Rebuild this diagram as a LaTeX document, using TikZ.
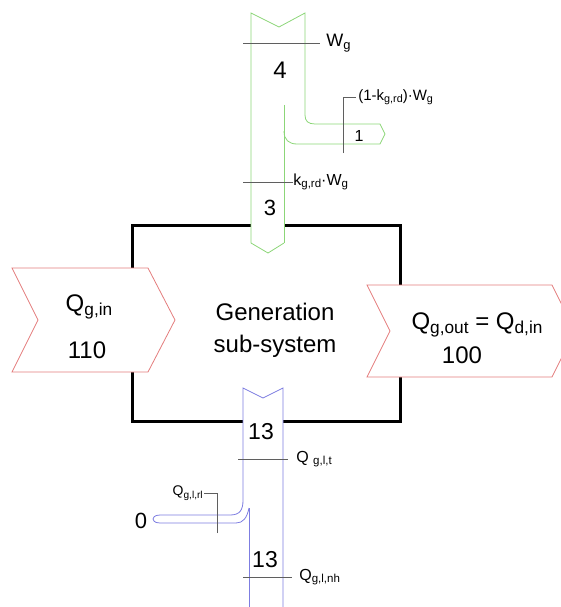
\documentclass[tikz,border=0pt]{standalone}
\usepackage{fontspec}
\setmainfont{Liberation Sans}
\definecolor{flowgreen}{RGB}{140,214,120}
\definecolor{flowred}{RGB}{228,125,125}
\definecolor{flowblue}{RGB}{125,125,225}
\definecolor{leadgray}{RGB}{95,95,95}
\newcommand{\fsz}[1]{\fontsize{#1}{#1}\selectfont}
\makeatletter
\newcommand{\lowsub}[1]{\raisebox{-0.17em}{\fontsize{\strip@pt\dimexpr0.72\dimexpr\f@size pt\relax\relax}{0}\selectfont#1}}
\makeatother
\begin{document}
\begin{tikzpicture}[x=1pt,y=-1pt,
    lead/.style={leadgray,line width=0.7pt},
    lbl/.style={inner sep=0pt,text=black},
    txt/.style={inner sep=0pt,anchor=base}]
    \useasboundingbox (0,0) rectangle (561,607);

    % system boundary
    \draw[line width=3pt] (132,225) rectangle (400,421);

    % heat in / out
    \filldraw[draw=flowred,fill=white,line width=0.8pt] (12,268) -- (148,268) -- (175,320) -- (148,372) -- (12,372) -- (38,320) -- cycle;
    \filldraw[draw=flowred,fill=white,line width=0.8pt] (367,285) -- (552,285) -- (575,331) -- (552,377) -- (367,377) -- (390,331) -- cycle;

    % auxiliary energy (green)
    \fill[white] (251,13) -- (279,27) -- (305,13) -- (305,125) -- (284,125) -- (284,243) -- (268,253) -- (251,243) -- cycle;
    \draw[flowgreen,line width=0.8pt] (284,243) -- (268,253) -- (251,243) -- (251,13) -- (279,27) -- (305,13) -- (305,115)
        .. controls (305,121) and (308,124) .. (315,124) -- (380,124) -- (385,134) -- (380,144) -- (297,144)
        .. controls (289,144) and (284,140) .. (284,131);
    \draw[flowgreen,line width=0.8pt] (284,105) -- (284,243);

    % losses (blue)
    \fill[white] (243,388) -- (263,398) -- (283,388) -- (283,607) -- (243,607) -- cycle;
    \draw[flowblue,line width=0.8pt] (283,607) -- (283,388) -- (263,398) -- (243,388) -- (243,500)
        .. controls (243,510) and (240,515) .. (230,515) -- (160,515)
        .. controls (154,515) and (153,518) .. (153,519) .. controls (153,520) and (154,523) .. (160,523) -- (236,523)
        .. controls (243,523) and (247,518) .. (249,508);
    \draw[flowblue,line width=0.8pt] (249,508) -- (249,607);

    % texts
    \node[txt,font=\fsz{24}] (gen1) at (275,320) {Generation};
    \node[txt,font=\fsz{24}] (gen2) at (275,352) {sub-system};
    \node[txt,font=\fsz{24}] (qin) at (89,311) {Q\lowsub{g,in}};
    \node[txt,font=\fsz{24}] (qinval) at (87,358) {110};
    \node[txt,font=\fsz{24}] (qout) at (477,329) {Q\lowsub{g,out} = Q\lowsub{d,in}};
    \node[txt,font=\fsz{24}] (qoutval) at (462,363) {100};
    \node[txt,font=\fsz{24}] (n4) at (280,79) {4};
    \node[txt,font=\fsz{22}] (n3) at (270,215) {3};
    \node[txt,font=\fsz{16}] (n1) at (359,141) {1};
    \node[txt,font=\fsz{23}] (n13a) at (261,439) {13};
    \node[txt,font=\fsz{23}] (n13b) at (265,567) {13};
    \node[txt,font=\fsz{22}] (n0) at (141,528) {0};

    % leaders
    \draw[lead] (243,43) -- (320,43) node[lbl,right=6pt,font=\fsz{18}] (wg) {W\lowsub{g}};
    \draw[lead] (243,182) -- (293,182) node[lbl,right,font=\fsz{16}] (kwg) {k\lowsub{g,rd}\textperiodcentered W\lowsub{g}};
    \draw[lead] (343,153) -- (343,97) -- (356,97) node[lbl,right=2pt,font=\fsz{15}] (rwg) {(1-k\lowsub{g,rd})\textperiodcentered W\lowsub{g}};
    \draw[lead] (238,459) -- (288,459) node[lbl,right=8pt,font=\fsz{16}] (qt) {Q \lowsub{g,l,t}};
    \draw[lead] (243,577) -- (292,577) node[lbl,right=7pt,font=\fsz{16}] (qnh) {Q\lowsub{g,l,nh}};
    \draw[lead] (217,533) -- (217,493) -- (204,493) node[lbl,left=1pt,font=\fsz{14}] (qrl) {Q\lowsub{g,l,rl}};
\end{tikzpicture}
\end{document}
